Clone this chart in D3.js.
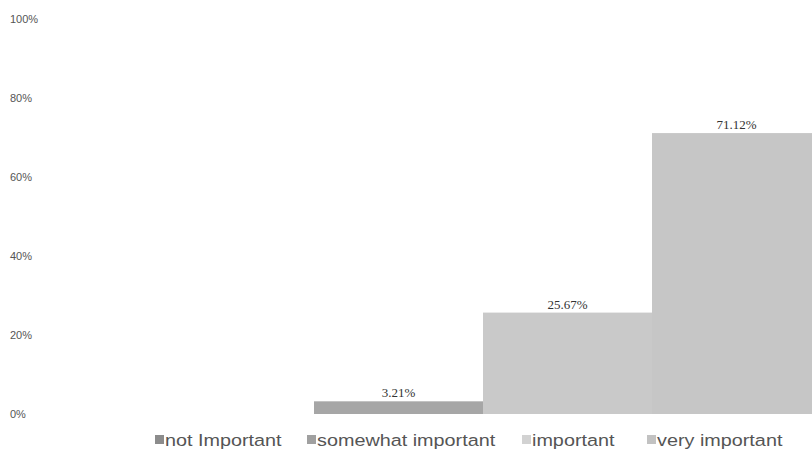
<!DOCTYPE html>
<html><head><meta charset="utf-8">
<script src="https://cdn.jsdelivr.net/npm/d3@7"></script>
<style>body{margin:0;background:#fff}svg{display:block}</style>
</head><body>
<script>
const categories = ["not Important", "somewhat important", "important", "very important"];
const values = [0, 3.21, 25.67, 71.12];
const barColors = ["#8e8e8e", "#a6a6a6", "#c9c9c9", "#c6c6c6"];
const legendColors = ["#8c8c8c", "#a0a0a0", "#d2d2d2", "#c2c2c2"];
const tickValues = [0, 20, 40, 60, 80, 100];

const W = 812, H = 469;
const svg = d3.select("body").append("svg").attr("width", W).attr("height", H);

const x = d3.scaleBand().domain(categories).range([145, 821]).padding(0);
const y = d3.scaleLinear().domain([0, 100]).range([414, 19]);

// y axis labels
const yAxis = d3.axisLeft(y).tickValues(tickValues).tickFormat(d => d + "%").tickSize(0);
const gy = svg.append("g").attr("transform", "translate(10,0)").call(yAxis);
gy.select(".domain").remove();
gy.selectAll("text").attr("text-anchor", "start").attr("x", 0).attr("dy", "0.35em")
  .style("font-family", "'Liberation Sans', Arial, sans-serif").style("font-size", "11px").style("fill", "#555");

// bars
svg.append("g").selectAll("rect").data(values).join("rect")
  .attr("x", (d, i) => x(categories[i]))
  .attr("width", x.bandwidth())
  .attr("y", d => y(d))
  .attr("height", d => y(0) - y(d))
  .attr("fill", (d, i) => barColors[i]);

// data labels
svg.append("g").selectAll("text").data(values).join("text")
  .filter(d => d > 0)
  .attr("x", (d, i) => x(categories[values.indexOf(d)]) + x.bandwidth() / 2)
  .attr("y", d => y(d) - 4)
  .attr("text-anchor", "middle")
  .style("font-family", "'Liberation Serif', 'Times New Roman', serif")
  .style("font-size", "13px").style("fill", "#333")
  .text(d => d.toFixed(2) + "%");

// legend
const legendX = [155, 307, 522, 647];
const lg = svg.append("g");
categories.forEach((c, i) => {
  const g = lg.append("g").attr("transform", `translate(${legendX[i]},0)`);
  g.append("rect").attr("x", 0).attr("y", 435).attr("width", 9).attr("height", 9).attr("fill", legendColors[i]);
  g.append("text").attr("x", 10).attr("y", 446)
    .attr("transform", "translate(10,0) scale(1.2,1) translate(-10,0)")
    .style("font-family", "'Liberation Sans', Arial, sans-serif")
    .style("font-size", "16.5px").style("fill", "#555")
    .text(c);
});
</script>
</body></html>
